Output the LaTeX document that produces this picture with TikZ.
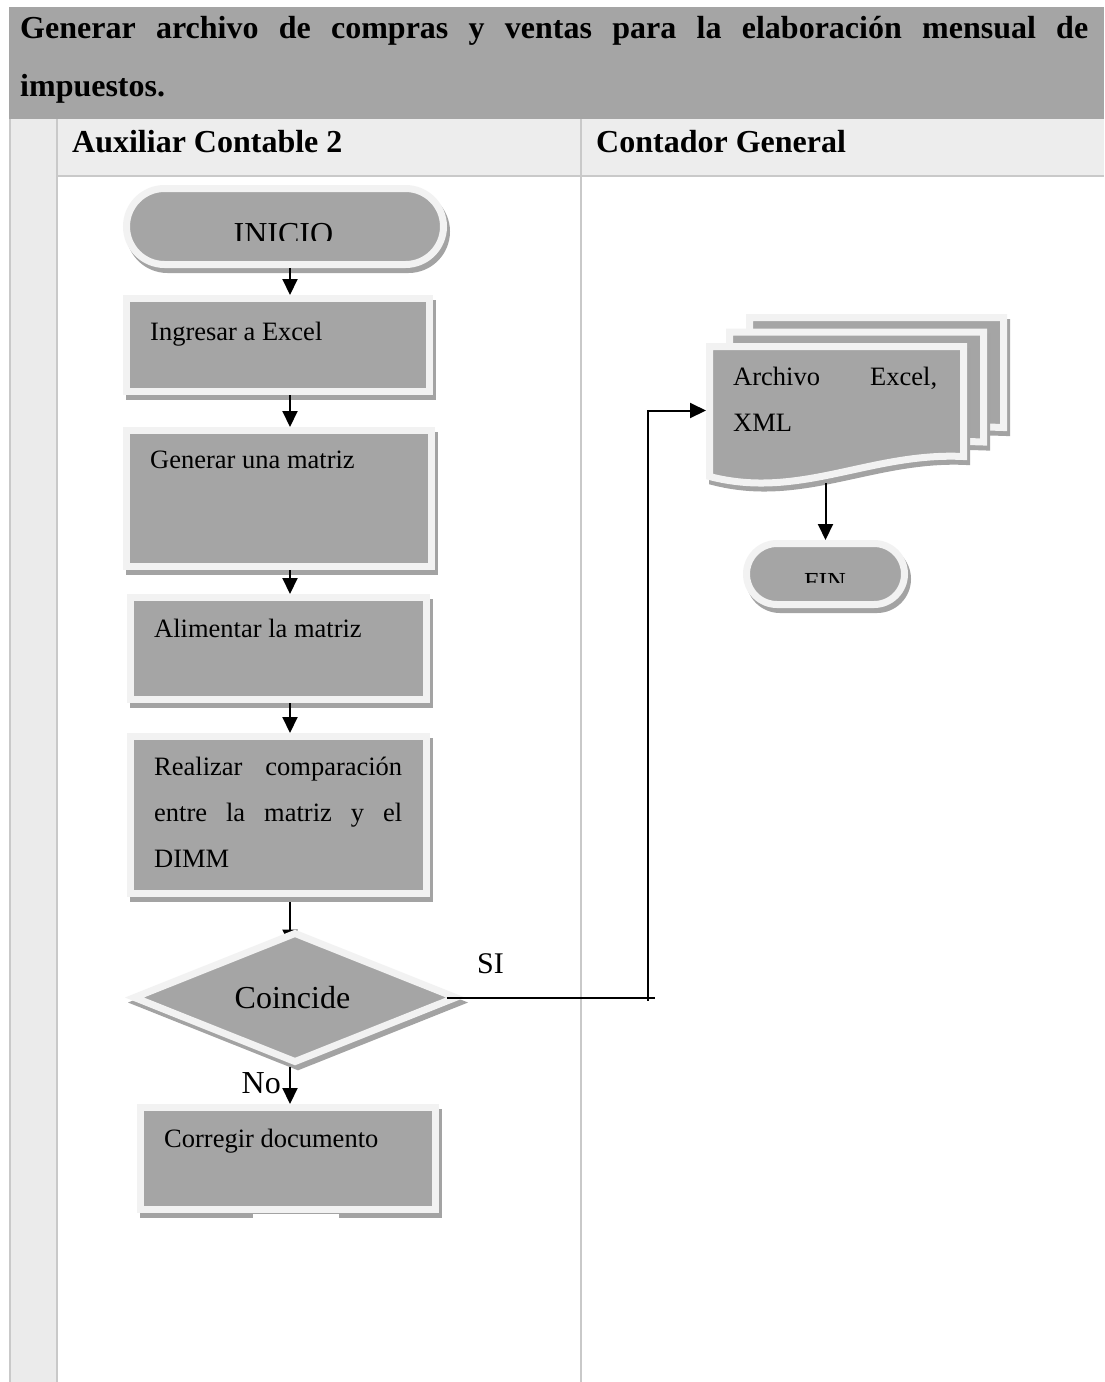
\documentclass[tikz,border=0pt]{standalone}
\usepackage{fontspec}
\setmainfont{Liberation Serif}
\usetikzlibrary{shapes.geometric,shapes.misc,arrows.meta}

\definecolor{boxgray}{HTML}{A5A5A5}
\definecolor{rimgray}{HTML}{F2F2F2}
\definecolor{shadegray}{HTML}{A3A3A3}
\definecolor{bandgray}{HTML}{A5A5A5}
\definecolor{headgray}{HTML}{EDEDED}
\definecolor{colgray}{HTML}{EBEBEB}
\definecolor{rulegray}{HTML}{C9C9C9}

\pgfdeclarelayer{table}
\pgfdeclarelayer{under}
\pgfsetlayers{table,under,main}

\newcommand\bodyfont{\fontsize{26.5}{46}\selectfont}
\newcommand\headfont{\bfseries\fontsize{32}{57}\selectfont}
\newcommand\bigfont{\fontsize{32}{38}\selectfont}

% document-stack sheet, shifted by (#1,#2)
\newcommand\docsheet[2]{%
  \path[rimmed, shift={(#1,#2)}] (709.5,346.5) -- (963.5,346.5) -- (963.5,456.5)
    .. controls (870,452) and (800,500) .. (709.5,476.5) -- cycle;}

\tikzset{
  rimmed/.style={fill=boxgray, draw=rimgray, line width=7pt, inner sep=0pt,
    preaction={draw=shadegray, fill=shadegray, line width=7pt,
      transform canvas={shift={(3pt,-5pt)}}}},
  stepbox/.style={rimmed, rectangle},
  terminal/.style={rimmed, rounded rectangle},
  decision/.style={rimmed, diamond},
  lbl/.style={inner sep=0pt, font=\bodyfont},
  heading/.style={inner sep=0pt, font=\headfont, anchor=base west},
  arr/.style={line width=2pt, -{Triangle[width=15pt,length=16pt]}},
  wire/.style={line width=2pt},
}

\begin{document}
\begin{tikzpicture}[x=1pt,y=-1pt]
\useasboundingbox (0,0) rectangle (1104,1382);

% table: title band, lane headers, lanes
\begin{pgfonlayer}{table}
  \fill[white] (0,0) rectangle (1104,1382);
  \fill[bandgray] (9,7) rectangle (1104,119);
  \fill[headgray] (57,119) rectangle (1104,176);
  \fill[colgray] (10,119) rectangle (57,1382);
  \draw[rulegray, line width=2pt] (10,119) -- (10,1382);
  \draw[rulegray, line width=2pt] (57,119) -- (57,1382);
  \draw[rulegray, line width=2pt] (581,119) -- (581,1382);
  \draw[rulegray, line width=2pt] (57,176) -- (1104,176);
\end{pgfonlayer}

\node[heading] (title1) at (20,38)
  {\makebox[1068pt][s]{Generar archivo de compras y ventas para la elaboración mensual de}};
\node[heading] (title2) at (20,96) {impuestos.};
\node[heading] (lane1) at (72,152) {Auxiliar Contable 2};
\node[heading] (lane2) at (596,152) {Contador General};

\coordinate (spine) at (290,0);

% start
\node[terminal, minimum width=317pt, minimum height=76pt] (inicio) at (285,226.5) {};
\begin{scope}
  \clip (150,200) rectangle (420,240.5);
  \node[anchor=base, inner sep=0pt, font=\bigfont] (inicioText) at (283.5,244) {INICIO};
\end{scope}

% process steps
\node[stepbox, minimum width=303pt, minimum height=93pt] (ingresar) at (278,345) {};
\node[lbl, anchor=base west] (ingresarText) at (150,340) {Ingresar a Excel};

\node[stepbox, minimum width=305pt, minimum height=136pt] (generar) at (279,498.5) {};
\node[lbl, anchor=base west] (generarText) at (150,468) {Generar una matriz};

\node[stepbox, minimum width=296pt, minimum height=102pt] (alimentar) at (278.5,648.5) {};
\node[lbl, anchor=base west] (alimentarText) at (154,637) {Alimentar la matriz};

\node[stepbox, minimum width=296pt, minimum height=157pt] (realizar) at (278.5,815) {};
\node[lbl, anchor=base west] (realizarA) at (154,775) {\makebox[248pt][s]{Realizar comparación}};
\node[lbl, anchor=base west] (realizarB) at (154,821) {\makebox[248pt][s]{entre la matriz y el}};
\node[lbl, anchor=base west] (realizarC) at (154,867) {DIMM};

% decision
\node[decision, minimum width=324pt, minimum height=131pt] (coincide) at (295,997.5) {};
\node[anchor=base, inner sep=0pt, font=\bigfont] (coincideText) at (292.5,1008) {Coincide};

\node[stepbox, minimum width=295pt, minimum height=102pt] (corregir) at (288,1158.5) {};
\node[lbl, anchor=base west] (corregirText) at (164,1147) {Corregir documento};
\fill[white] (253,1213.5) rectangle (339,1222);

% output documents
\docsheet{40}{-29}
\docsheet{20}{-14.5}
\docsheet{0}{0}
\node[inner sep=0pt, outer sep=0pt, minimum width=261pt, minimum height=135pt] (frontdoc) at (836.5,410.5) {};
\node[lbl, anchor=base west] (docA) at (733,385) {\makebox[204pt][s]{Archivo Excel,}};
\node[lbl, anchor=base west] (docB) at (733,431) {XML};

% end
\node[terminal, minimum width=158pt, minimum height=61pt] (fin) at (825.5,574) {};
\begin{scope}
  \clip (780,560) rectangle (870,582);
  \node[anchor=base, inner sep=0pt, font=\fontsize{26}{30}\selectfont] (finText) at (825,590.5) {FIN};
\end{scope}

% connectors
\draw[arr] (inicio.south -| spine) -- (ingresar.north -| spine);
\draw[arr] (ingresar.south -| spine) -- (generar.north -| spine);
\draw[arr] (generar.south -| spine) -- (alimentar.north -| spine);
\draw[arr] (alimentar.south -| spine) -- (realizar.north -| spine);
\begin{pgfonlayer}{under}
  \draw[arr] (realizar.south -| spine) -- ([yshift=-17pt]coincide.north -| spine);
\end{pgfonlayer}
\draw[arr] (coincide.south -| spine) -- (corregir.north -| spine);
\node[anchor=base east, inner sep=0pt, font=\bigfont] (noLbl) at (281,1093) {No};

\coordinate (bend) at (648,997.5);
\node[anchor=base west, inner sep=0pt, font=\fontsize{30}{36}\selectfont] (siLbl) at (477,973) {SI};
\draw[wire] ([xshift=-14pt]coincide.east) -- ([xshift=7pt]bend);
\draw[arr] ([yshift=-3pt]bend) |- (frontdoc.west);
\draw[arr] ([yshift=-5pt]frontdoc.south -| fin.north) -- (fin.north);
\end{tikzpicture}
\end{document}
